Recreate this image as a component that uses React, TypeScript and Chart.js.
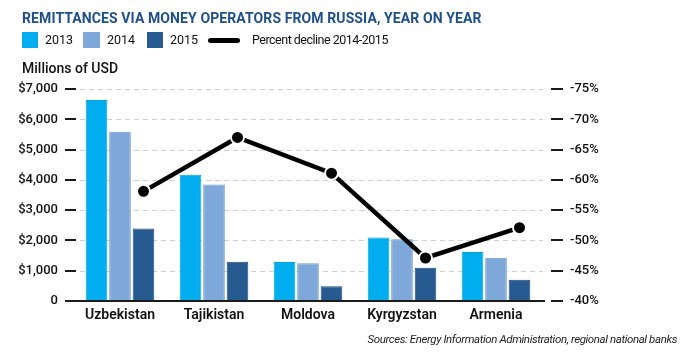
import React, { useEffect, useRef } from "react";
import { Chart, registerables } from "chart.js";

Chart.register(...registerables);

const categories = ["Uzbekistan", "Tajikistan", "Moldova", "Kyrgyzstan", "Armenia"];
const values2013 = [6640, 4170, 1290, 2100, 1620];
const values2014 = [5590, 3850, 1245, 2040, 1430];
const values2015 = [2390, 1300, 485, 1100, 705];
const percentDecline = [-58.1, -67.0, -61.1, -47.1, -52.1];
const usdTicks = [0, 1000, 2000, 3000, 4000, 5000, 6000, 7000];
const pctTicks = [-40, -45, -50, -55, -60, -65, -70, -75];

const C2013 = "#00adef";
const C2014 = "#7ea8da";
const C2015 = "#265a90";
const TITLE = "#1e4f8c";
const FONT = "Roboto, 'Liberation Sans', sans-serif";

const decor = {
  id: "decor",
  afterDatasetsUpdate(chart: any) {
    // put each line point over the 2015 bar of its category
    const lineMeta = chart.getDatasetMeta(3);
    const barMeta = chart.getDatasetMeta(2);
    lineMeta.data.forEach((pt: any, i: number) => {
      const bar = barMeta.data[i];
      if (bar) pt.x = bar.x;
    });
    if (lineMeta.dataset) {
      delete lineMeta.dataset._path;
    }
  },
  beforeDatasetsDraw(chart: any) {
    const { ctx, chartArea, scales } = chart;
    const y = scales.y;
    const y1 = scales.y1;
    ctx.save();
    ctx.strokeStyle = "#d0d0d0";
    ctx.lineWidth = 1;
    ctx.setLineDash([5, 4]);
    ctx.beginPath();
    usdTicks.forEach((v) => {
      if (v === 0) return;
      const py = Math.round(y.getPixelForValue(v)) + 0.5;
      ctx.moveTo(chartArea.left + 7, py);
      ctx.lineTo(chartArea.right, py);
    });
    ctx.stroke();
    ctx.setLineDash([]);
    ctx.strokeStyle = "#1a1a1a";
    ctx.lineWidth = 2;
    ctx.beginPath();
    usdTicks.forEach((v) => {
      const py = Math.round(y.getPixelForValue(v));
      ctx.moveTo(chartArea.left - 8, py);
      ctx.lineTo(chartArea.left + 3, py);
    });
    pctTicks.forEach((v) => {
      const py = Math.round(y1.getPixelForValue(v));
      ctx.moveTo(chartArea.right + 8, py);
      ctx.lineTo(chartArea.right + 20, py);
    });
    ctx.stroke();
    ctx.restore();
  },
  afterDatasetsDraw(chart: any) {
    const { ctx, chartArea, scales } = chart;
    const py = Math.round(scales.y.getPixelForValue(0));
    ctx.save();
    ctx.strokeStyle = "#1a1a1a";
    ctx.lineWidth = 2;
    ctx.beginPath();
    ctx.moveTo(chartArea.left - 8, py);
    ctx.lineTo(chartArea.right + 2, py);
    ctx.stroke();
    ctx.restore();
  },
};

export default function App() {
  const ref = useRef<HTMLCanvasElement | null>(null);

  useEffect(() => {
    if (!ref.current) return;
    const chart = new Chart(ref.current, {
      type: "bar",
      data: {
        labels: categories,
        datasets: [
          { type: "bar", label: "2013", data: values2013, backgroundColor: C2013, borderColor: "#06a2dd", borderWidth: { left: 1, right: 1, top: 1, bottom: 0 }, order: 1 },
          { type: "bar", label: "2014", data: values2014, backgroundColor: C2014, borderColor: "#6f99cd", borderWidth: { left: 1, right: 1, top: 1, bottom: 0 }, order: 1 },
          { type: "bar", label: "2015", data: values2015, backgroundColor: C2015, borderColor: "#1c4a7c", borderWidth: { left: 1, right: 1, top: 1, bottom: 0 }, order: 1 },
          {
            type: "line",
            label: "Percent decline 2014-2015",
            data: percentDecline,
            yAxisID: "y1",
            borderColor: "#000",
            borderWidth: 4.5,
            pointRadius: 6.5,
            pointBackgroundColor: "#000",
            pointBorderColor: "#fff",
            pointBorderWidth: 2,
            tension: 0,
            order: 0,
          } as any,
        ],
      },
      options: {
        responsive: false,
        animation: false,
        devicePixelRatio: 1,
        layout: { padding: { top: 89, left: 0, right: 0, bottom: 0 } },
        plugins: { legend: { display: false }, tooltip: { enabled: false } },
        categoryPercentage: 0.75,
        barPercentage: 0.92,
        scales: {
          x: {
            type: "category",
            offset: true,
            grid: { display: false, drawTicks: false },
            border: { display: false },
            ticks: { color: "#111", padding: 6, font: { family: FONT, size: 14, weight: "600" } },
            afterFit(s: any) { s.height = 52; },
          },
          y: {
            position: "left",
            min: 0,
            max: 7000,
            afterBuildTicks(s: any) { s.ticks = usdTicks.map((v) => ({ value: v })); },
            grid: { display: false, drawTicks: false },
            border: { display: false },
            ticks: {
              color: "#111",
              padding: 15,
              font: { family: FONT, size: 13, weight: "500" },
              callback: (v: any) => (Number(v) === 0 ? "0" : "$" + Number(v).toLocaleString("en-US")),
            },
            afterFit(s: any) { s.width = 73; },
          },
          y1: {
            position: "right",
            min: -75,
            max: -40,
            reverse: true,
            afterBuildTicks(s: any) { s.ticks = pctTicks.map((v) => ({ value: v })); },
            grid: { display: false, drawTicks: false },
            border: { display: false },
            ticks: {
              color: "#111",
              padding: 27,
              font: { family: FONT, size: 13, weight: "500" },
              callback: (v: any) => v + "%",
            },
            afterFit(s: any) { s.width = 157; },
          },
        },
      } as any,
      plugins: [decor],
    });
    return () => chart.destroy();
  }, []);

  const txt = (style: React.CSSProperties): React.CSSProperties => ({
    position: "absolute",
    fontFamily: FONT,
    whiteSpace: "nowrap",
    color: "#111",
    ...style,
  });

  return (
    <div style={{ position: "fixed", left: 0, top: 0, width: 700, height: 353, background: "#fff", overflow: "hidden" }}>
      <canvas ref={ref} width={700} height={353} style={{ position: "absolute", left: 0, top: 0, width: 700, height: 353 }} />
      <div style={txt({ left: 22, top: 9, fontSize: 14, lineHeight: "18px", fontWeight: 700, color: TITLE, letterSpacing: 0.1 })}>
        REMITTANCES VIA MONEY OPERATORS FROM RUSSIA, YEAR ON YEAR
      </div>
      <div style={{ position: "absolute", left: 22, top: 32, width: 16, height: 16, background: C2013 }} />
      <div style={txt({ left: 45, top: 31, fontSize: 12.5, lineHeight: "18px" })}>2013</div>
      <div style={{ position: "absolute", left: 83, top: 32, width: 17, height: 16, background: C2014 }} />
      <div style={txt({ left: 107, top: 31, fontSize: 12.5, lineHeight: "18px" })}>2014</div>
      <div style={{ position: "absolute", left: 147, top: 32, width: 16, height: 16, background: C2015 }} />
      <div style={txt({ left: 170, top: 31, fontSize: 12.5, lineHeight: "18px" })}>2015</div>
      <div style={{ position: "absolute", left: 208, top: 38, width: 32, height: 5, borderRadius: 3, background: "#000" }} />
      <div style={txt({ left: 252, top: 31, fontSize: 12.5, lineHeight: "18px", letterSpacing: -0.5 })}>Percent decline 2014-2015</div>
      <div style={txt({ left: 22, top: 59, fontSize: 14, lineHeight: "18px", fontWeight: 500 })}>Millions of USD</div>
      <div style={txt({ right: 23, top: 330, fontSize: 11.5, lineHeight: "18px", fontStyle: "italic", color: "#222", letterSpacing: -0.4 })}>
        Sources: Energy Information Administration, regional national banks
      </div>
    </div>
  );
}
